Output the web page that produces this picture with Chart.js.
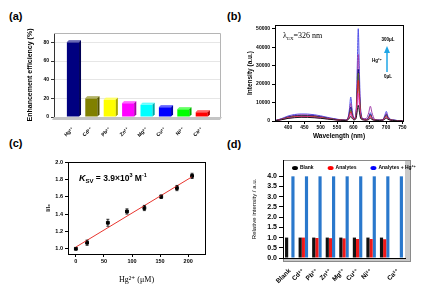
<!DOCTYPE html>
<html>
<head>
<meta charset="utf-8">
<script src="https://cdn.jsdelivr.net/npm/chart.js@4.4.1/dist/chart.umd.min.js"></script>
<style>
  body { margin: 0; width: 421px; height: 288px; background: #fff; position: relative; overflow: hidden;
         font-family: "Liberation Sans", Arial, sans-serif; }
  canvas { position: absolute; }
  .tag { position: absolute; font-weight: bold; font-size: 11px; line-height: 12px; }
</style>
</head>
<body>
<div class="tag" style="left:9px;top:10px">(a)</div>
<div class="tag" style="left:227px;top:10px">(b)</div>
<div class="tag" style="left:9px;top:137px">(c)</div>
<div class="tag" style="left:227px;top:138px">(d)</div>
<canvas id="ca" width="222" height="144" style="left:0;top:0"></canvas>
<canvas id="cb" width="211" height="144" style="left:210px;top:0"></canvas>
<canvas id="cc" width="210" height="144" style="left:0;top:144px"></canvas>
<canvas id="cd" width="211" height="144" style="left:210px;top:144px"></canvas>
<script>
// (a) enhancement efficiency per ion
const ionsA = ['Hg²⁺', 'Cd²⁺', 'Pb²⁺', 'Zn²⁺', 'Mg²⁺', 'Cu²⁺', 'Ni²⁺', 'Ca²⁺'];
const effA = [80, 20, 18.4, 14.8, 13, 10.5, 8.3, 5.1];
const ticksA = [0, 20, 40, 60, 80];

// (b) emission spectra, Hg2+ added 0 .. 300 uL
const wl = [360, 380, 400, 420, 440, 460, 480, 500, 520, 540, 560, 575, 583, 588, 592, 596, 602, 608, 612, 615, 618, 622, 630, 640, 647, 652, 657, 665, 680, 692, 697, 701, 706, 720, 750];
const spec0   = [90, 700, 1400, 1800, 2000, 1950, 1750, 1450, 1050, 700, 380, 280, 600, 1500, 2500, 1500, 600, 1300, 5500, 8500, 5500, 1600, 600, 450, 800, 1500, 800, 400, 280, 500, 1100, 1500, 900, 280, 90];
const spec50  = [100, 750, 1550, 2000, 2200, 2150, 1950, 1600, 1150, 750, 400, 300, 800, 2300, 4000, 2300, 800, 2000, 9500, 15000, 9500, 2700, 700, 550, 1100, 2200, 1100, 450, 300, 600, 1400, 2000, 1100, 300, 100];
const spec100 = [100, 850, 1750, 2250, 2500, 2450, 2200, 1800, 1300, 850, 450, 320, 900, 2800, 5000, 2800, 900, 2500, 13500, 22000, 13500, 3600, 800, 650, 1300, 2800, 1300, 500, 320, 700, 1800, 2500, 1300, 350, 100];
const spec150 = [120, 900, 1900, 2450, 2700, 2650, 2400, 1950, 1400, 900, 500, 350, 1000, 3300, 6000, 3300, 1000, 2800, 16000, 26000, 16000, 4200, 900, 700, 1500, 3200, 1500, 550, 350, 800, 2100, 3000, 1500, 400, 120];
const spec200 = [150, 1000, 2100, 2750, 3000, 2950, 2700, 2200, 1550, 1000, 550, 400, 1100, 4000, 7500, 4000, 1100, 3000, 17000, 28000, 17000, 4500, 1000, 800, 1800, 3800, 1800, 600, 400, 900, 2400, 3500, 1700, 450, 150];
const spec250 = [150, 1100, 2300, 3000, 3300, 3250, 2950, 2400, 1700, 1100, 600, 450, 1300, 5000, 9500, 5000, 1300, 3500, 22000, 36000, 22000, 5500, 1200, 1500, 4500, 8000, 4500, 1000, 450, 1000, 2800, 4200, 2000, 500, 150];
const spec300 = [200, 1300, 2700, 3500, 3800, 3750, 3400, 2800, 2000, 1300, 700, 500, 1500, 6500, 13000, 6500, 1500, 4000, 30000, 50000, 30000, 7000, 1200, 900, 2000, 4500, 2000, 700, 500, 1200, 3500, 5200, 2500, 600, 200];
const ticksB = [0, 10000, 20000, 30000, 40000, 50000];

// (c) Stern-Volmer plot
const conc = [0, 20, 57, 91, 122, 152, 180, 207];
const ratio = [1.00, 1.07, 1.30, 1.43, 1.47, 1.60, 1.70, 1.84];
const ratioErr = [0.01, 0.03, 0.04, 0.03, 0.03, 0.02, 0.03, 0.03];
const fitX = [0, 207];
const fitY = [1.02, 1.83];

// (d) selectivity
const ionsD = ['Blank', 'Cd²⁺', 'Pb²⁺', 'Zn²⁺', 'Mg²⁺', 'Cu²⁺', 'Ni²⁺', '', 'Ca²⁺'];
const blankD = [1.0, 1.0, 1.0, 1.0, 1.0, 1.0, 1.0, 1.0, null];
const analyteD = [null, 1.0, 0.98, 0.97, 0.96, 0.93, 0.93, 0.92, null];
const hgD = [4.0, 4.0, 4.0, 4.0, 4.0, 4.0, 4.0, 4.0, 4.0];

const SANS = '"Liberation Sans", Arial, "DejaVu Sans", sans-serif';
const SERIF = '"Liberation Serif", "Times New Roman", "DejaVu Serif", serif';
Chart.defaults.font.family = SANS;
Chart.defaults.font.weight = 'bold';
Chart.defaults.color = '#000';
Chart.defaults.animation = false;
Chart.defaults.responsive = false;
Chart.defaults.plugins.legend.display = false;
Chart.defaults.plugins.tooltip.enabled = false;

const colorsA = ['#000080', '#808000', '#ffff00', '#ff00ff', '#00ffff', '#0000ff', '#00ff00', '#ff0000'];

// box round a chart area
const frame = {
  id: 'frame',
  afterDraw(chart) {
    const { ctx, chartArea: a } = chart;
    ctx.save();
    ctx.strokeStyle = '#000';
    ctx.lineWidth = 1;
    ctx.strokeRect(Math.round(a.left) + 0.5, Math.round(a.top) + 0.5, Math.round(a.right - a.left), Math.round(a.bottom - a.top));
    ctx.restore();
  }
};

// fake 3d look for panel (a)
const bar3d = {
  id: 'bar3d',
  beforeDatasetsDraw(chart) {
    const { ctx, chartArea: a } = chart;
    ctx.save();
    ctx.fillStyle = '#c4c4c4';
    ctx.beginPath();
    ctx.moveTo(a.left, a.bottom);
    ctx.lineTo(a.right + 2, a.bottom);
    ctx.lineTo(a.right, a.bottom + 3);
    ctx.lineTo(a.left - 2, a.bottom + 3);
    ctx.closePath();
    ctx.fill();
    ctx.strokeStyle = '#b5b5b5';
    ctx.lineWidth = 1;
    ctx.beginPath();
    ctx.moveTo(a.left, a.top + 0.5);
    ctx.lineTo(a.right + 0.5, a.top + 0.5);
    ctx.lineTo(a.right + 0.5, a.bottom);
    ctx.stroke();
    ctx.restore();
  },
  afterDatasetsDraw(chart) {
    const { ctx } = chart;
    const d = 2;
    chart.getDatasetMeta(0).data.forEach((bar, i) => {
      const { x, y, base, width } = bar.getProps(['x', 'y', 'base', 'width'], true);
      const l = x - width / 2, r = x + width / 2;
      ctx.save();
      ctx.beginPath();
      ctx.moveTo(l, y); ctx.lineTo(l + d, y - d); ctx.lineTo(r + d, y - d); ctx.lineTo(r, y);
      ctx.closePath();
      ctx.fillStyle = colorsA[i]; ctx.fill();
      ctx.fillStyle = 'rgba(255,255,255,0.4)'; ctx.fill();
      ctx.beginPath();
      ctx.moveTo(r, y); ctx.lineTo(r + d, y - d); ctx.lineTo(r + d, base - d); ctx.lineTo(r, base);
      ctx.closePath();
      ctx.fillStyle = colorsA[i]; ctx.fill();
      ctx.fillStyle = 'rgba(0,0,0,0.35)'; ctx.fill();
      ctx.restore();
    });
  }
};

new Chart(document.getElementById('ca'), {
  type: 'bar',
  data: {
    datasets: [{
      data: effA.map((v, i) => ({ x: i, y: v })),
      backgroundColor: colorsA,
      barPercentage: 0.66,
      categoryPercentage: 1
    }]
  },
  options: {
    layout: { padding: { top: 33, right: 2, left: 0, bottom: 0 } },
    scales: {
      x: {
        type: 'linear', min: -1.03, max: 7.99, offset: false,
        afterBuildTicks: s => { s.ticks = ionsA.map((_, i) => ({ value: i })); },
        afterFit: s => { s.height = 27; },
        ticks: { callback: v => ionsA[v], minRotation: 45, maxRotation: 45, font: { size: 5 }, padding: 1 },
        grid: { display: false },
        border: { color: '#888' }
      },
      y: {
        min: 0, max: 90,
        afterBuildTicks: s => { s.ticks = ticksA.map(v => ({ value: v })); },
        afterFit: s => { s.width = 54; },
        ticks: { font: { size: 5 }, padding: 2 },
        grid: { color: '#e6e6e6', tickColor: '#333', tickLength: 3 },
        border: { color: '#333' },
        title: { display: true, text: 'Enhancement efficiency (%)', font: { size: 7 }, padding: { top: 26, bottom: 0 } }
      }
    }
  },
  plugins: [bar3d]
});

// panel (b)
const specs = [spec0, spec50, spec100, spec150, spec200, spec250, spec300];
const specColors = ['#1a1a1a', '#e040c0', '#e0202a', '#5b6b2a', '#101080', '#a03aa8', '#5050e8'];

const notesB = {
  id: 'notesB',
  afterDraw(chart) {
    const { ctx, chartArea: a } = chart;
    ctx.save();
    ctx.fillStyle = '#000';
    let x = a.left + 8;
    const yb = a.top + 13;
    ctx.font = '8px ' + SERIF;
    ctx.fillText('λ', x, yb);
    x += ctx.measureText('λ').width;
    ctx.font = '5px ' + SERIF;
    ctx.fillText('EX', x, yb + 2);
    x += ctx.measureText('EX').width;
    ctx.font = '8px ' + SERIF;
    ctx.fillText('=326 nm', x, yb);

    const ax = a.left + 112;
    ctx.strokeStyle = '#1fa6e6';
    ctx.fillStyle = '#1fa6e6';
    ctx.lineWidth = 1.5;
    ctx.beginPath(); ctx.moveTo(ax, a.top + 47); ctx.lineTo(ax, a.top + 27); ctx.stroke();
    ctx.beginPath(); ctx.moveTo(ax - 3, a.top + 28); ctx.lineTo(ax, a.top + 21); ctx.lineTo(ax + 3, a.top + 28); ctx.closePath(); ctx.fill();

    ctx.fillStyle = '#000';
    ctx.font = 'bold 4.5px ' + SANS;
    ctx.textAlign = 'center';
    ctx.textBaseline = 'middle';
    ctx.fillText('300μL', ax + 1, a.top + 15);
    ctx.fillText('Hg²⁺', ax - 10, a.top + 36);
    ctx.fillText('0μL', ax + 1, a.top + 52);
    ctx.restore();
  }
};

new Chart(document.getElementById('cb'), {
  type: 'line',
  data: {
    datasets: specs.map((s, k) => ({
      data: wl.map((w, i) => ({ x: w, y: s[i] })),
      borderColor: specColors[k],
      borderWidth: 1,
      pointRadius: 0,
      cubicInterpolationMode: 'monotone'
    }))
  },
  options: {
    layout: { padding: { top: 25, right: 18, left: 0, bottom: 0 } },
    scales: {
      x: {
        type: 'linear', min: 360, max: 752,
        afterFit: s => { s.height = 23; },
        ticks: { stepSize: 50, includeBounds: false, font: { size: 5 }, padding: 1 },
        grid: { drawOnChartArea: false, color: '#000', tickLength: 3 },
        border: { color: '#000' },
        title: { display: true, text: 'Wavelength (nm)', font: { size: 6.5 }, padding: { top: 0, bottom: 4 } }
      },
      y: {
        min: 0, max: 52000,
        afterBuildTicks: s => { s.ticks = ticksB.map(v => ({ value: v })); },
        afterFit: s => { s.width = 65; },
        ticks: { font: { size: 5 }, padding: 2, callback: v => v },
        grid: { drawOnChartArea: false, color: '#000', tickLength: 3 },
        border: { color: '#000' },
        title: { display: true, text: 'Intensity (a.u.)', font: { size: 6.5 }, padding: { top: 36, bottom: 0 } }
      }
    }
  },
  plugins: [frame, notesB]
});

// panel (c)
const errBars = {
  id: 'errBars',
  afterDatasetsDraw(chart) {
    const { ctx, scales: { x, y } } = chart;
    ctx.save();
    ctx.strokeStyle = '#000';
    ctx.lineWidth = 0.8;
    conc.forEach((c, i) => {
      const px = x.getPixelForValue(c);
      const top = y.getPixelForValue(ratio[i] + ratioErr[i]);
      const bot = y.getPixelForValue(ratio[i] - ratioErr[i]);
      ctx.beginPath();
      ctx.moveTo(px, top); ctx.lineTo(px, bot);
      ctx.moveTo(px - 1.5, top); ctx.lineTo(px + 1.5, top);
      ctx.moveTo(px - 1.5, bot); ctx.lineTo(px + 1.5, bot);
      ctx.stroke();
    });
    ctx.restore();
  }
};

const notesC = {
  id: 'notesC',
  afterDraw(chart) {
    const { ctx, chartArea: a } = chart;
    ctx.save();
    ctx.fillStyle = '#000';
    let x = a.left + 11;
    const yb = a.top + 19;
    const put = (txt, font, dy) => {
      ctx.font = font;
      ctx.fillText(txt, x, yb + dy);
      x += ctx.measureText(txt).width;
    };
    put('K', 'italic bold 9px ' + SANS, 0);
    put('SV', 'bold 6px ' + SANS, 2);
    put(' = 3.9×10', 'bold 8.5px ' + SANS, 0);
    put('3', 'bold 5.5px ' + SANS, -4);
    put(' M', 'bold 8.5px ' + SANS, 0);
    put('-1', 'bold 5.5px ' + SANS, -4);
    ctx.restore();
  }
};

new Chart(document.getElementById('cc'), {
  type: 'scatter',
  data: {
    datasets: [{
      data: fitX.map((v, i) => ({ x: v, y: fitY[i] })),
      showLine: true,
      borderColor: '#e8352e',
      borderWidth: 1,
      pointRadius: 0
    }, {
      data: conc.map((v, i) => ({ x: v, y: ratio[i] })),
      pointStyle: 'rect',
      pointRadius: 2,
      backgroundColor: '#000',
      borderColor: '#000'
    }]
  },
  options: {
    layout: { padding: { top: 18, right: 5, left: 0, bottom: 0 } },
    scales: {
      x: {
        min: -14, max: 230,
        afterFit: s => { s.height = 34; },
        ticks: { stepSize: 50, includeBounds: false, font: { size: 5.5 }, padding: 1 },
        grid: { drawOnChartArea: false, color: '#000', tickLength: 3 },
        border: { color: '#000' },
        title: { display: true, text: 'Hg²⁺ (μM)', font: { size: 8, family: SERIF, weight: 'normal' }, padding: { top: 0, bottom: 3 } }
      },
      y: {
        min: 0.94, max: 2.0,
        afterFit: s => { s.width = 68; },
        ticks: { stepSize: 0.2, includeBounds: false, font: { size: 5.5 }, padding: 2, callback: v => v.toFixed(1) },
        grid: { drawOnChartArea: false, color: '#000', tickLength: 3 },
        border: { color: '#000' },
        title: { display: true, text: 'I/I₀', font: { size: 6 }, padding: { top: 45, bottom: 0 } }
      }
    }
  },
  plugins: [frame, errBars, notesC]
});

// panel (d)
const legendColorsD = ['#000', '#ff0000', '#0000ff'];
const boxD = {
  id: 'boxD',
  beforeDraw(chart) {
    const { ctx, chartArea: a } = chart;
    ctx.save();
    ctx.fillStyle = '#c9c9c9';
    ctx.fillRect(a.right, a.top + 1, 5, a.bottom - a.top + 3);
    ctx.fillRect(a.left, a.bottom, a.right - a.left + 5, 3);
    ctx.strokeStyle = '#8a8a8a';
    ctx.lineWidth = 1;
    ctx.strokeRect(Math.round(a.left) + 0.5, Math.round(a.top) + 0.5, Math.round(a.right - a.left) + 5, Math.round(a.bottom - a.top) + 3);
    ctx.restore();
  },
  afterDraw(chart) {
    const { ctx, chartArea: a } = chart;
    ctx.save();
    ctx.font = 'bold 5px ' + SANS;
    ctx.textBaseline = 'middle';
    let x = a.left + 12;
    const y = a.top + 8;
    chart.data.datasets.forEach((ds, i) => {
      ctx.fillStyle = legendColorsD[i];
      ctx.beginPath();
      ctx.ellipse(x, y, 3, 2, 0, 0, Math.PI * 2);
      ctx.fill();
      ctx.fillStyle = '#000';
      ctx.fillText(ds.label, x + 5, y);
      x += 5 + ctx.measureText(ds.label).width + 17;
    });
    ctx.restore();
  }
};

new Chart(document.getElementById('cd'), {
  type: 'bar',
  data: {
    labels: ionsD,
    datasets: [
      { label: 'Blank', data: blankD, backgroundColor: '#111' },
      { label: 'Analytes', data: analyteD, backgroundColor: '#f01818' },
      { label: 'Analytes + Hg²⁺', data: hgD, backgroundColor: '#2a78cc' }
    ]
  },
  options: {
    datasets: { bar: { categoryPercentage: 0.7, barPercentage: 1 } },
    layout: { padding: { top: 16, right: 16, left: 0, bottom: 0 } },
    scales: {
      x: {
        afterFit: s => { s.height = 30; },
        ticks: { minRotation: 45, maxRotation: 45, font: { size: 6.5 }, padding: 1, autoSkip: false },
        grid: { display: false },
        border: { color: '#000' }
      },
      y: {
        min: 0, max: 4.8,
        afterBuildTicks: s => { s.ticks = s.ticks.filter(t => t.value <= 4); },
        afterFit: s => { s.width = 73; },
        ticks: { stepSize: 0.5, font: { size: 7 }, padding: 2, callback: v => v.toFixed(1) },
        grid: { drawOnChartArea: false, color: '#000', tickLength: 4 },
        border: { color: '#000' },
        title: { display: true, text: 'Relative intensity / a.u.', font: { size: 6, weight: 'normal' }, padding: { top: 41, bottom: 0 } }
      }
    }
  },
  plugins: [boxD]
});
</script>
</body>
</html>
